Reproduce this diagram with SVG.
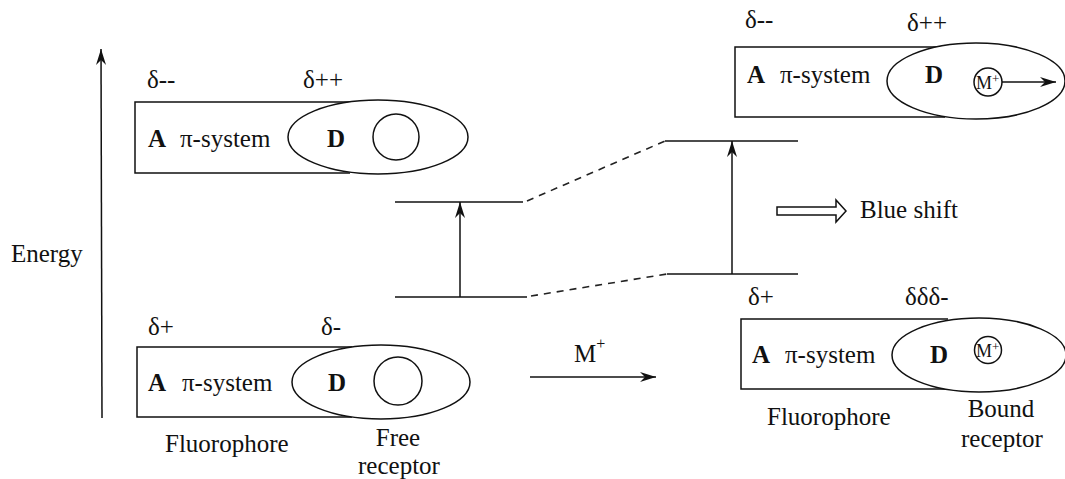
<svg xmlns="http://www.w3.org/2000/svg" width="1065" height="479" viewBox="0 0 1065 479" font-family="'Liberation Serif', 'Times New Roman', serif">
<style>
text{font-family:"Liberation Serif","Times New Roman",serif;font-size:25px;fill:#111}
.b{font-weight:bold}
.s{font-size:18px}
.ln{stroke:#111;stroke-width:1.5;fill:none}
.sh{stroke:#111;stroke-width:1.5;fill:#fff}
.dash{stroke:#222;stroke-width:1.6;fill:none;stroke-dasharray:7,6}
.c{text-anchor:middle}
</style>
<defs>
<marker id="ah" markerUnits="userSpaceOnUse" markerWidth="20" markerHeight="14" viewBox="-18 -7 20 14" refX="0" refY="0" orient="auto">
<path d="M0,0 L-16,-5 L-11,0 L-16,5 Z" fill="#111"/>
</marker>
</defs>
<rect width="1065" height="479" fill="#fff"/>

<g id="axis">
<line class="ln" x1="102" y1="418" x2="101" y2="49" stroke-width="2" marker-end="url(#ah)"/>
<text x="11" y="262">Energy</text>
</g>

<g id="free-excited">
<path class="ln" d="M350,102 H135 V173 H350"/>
<ellipse class="sh" cx="378" cy="137" rx="90" ry="37"/>
<circle class="ln" cx="396" cy="137" r="23"/>
<text x="147" y="88">δ--</text>
<text x="303" y="88">δ++</text>
<text class="b" x="148" y="147">A</text>
<text x="180" y="147">π-system</text>
<text class="b" x="327" y="147">D</text>
</g>

<g id="free-ground">
<path class="ln" d="M352,347 H137 V417 H352"/>
<ellipse class="sh" cx="381" cy="382" rx="89" ry="37"/>
<circle class="ln" cx="398" cy="381" r="24"/>
<text x="148" y="335">δ+</text>
<text x="321" y="335">δ-</text>
<text class="b" x="148" y="391">A</text>
<text x="182" y="391">π-system</text>
<text class="b" x="328" y="391">D</text>
<text x="165" y="452">Fluorophore</text>
<text class="c" x="398" y="446">Free</text>
<text class="c" x="399" y="474">receptor</text>
</g>

<g id="bound-excited">
<path class="ln" d="M945,47 H735 V117 H945"/>
<ellipse class="sh" cx="976" cy="81" rx="89" ry="38"/>
<circle class="ln" cx="988" cy="82" r="14"/>
<text class="s" x="976" y="89">M<tspan dy="-6" font-size="13">+</tspan></text>
<text x="745" y="28">δ--</text>
<text x="907" y="31">δ++</text>
<text class="b" x="747" y="83">A</text>
<text x="780" y="83">π-system</text>
<text class="b" x="925" y="83">D</text>
</g>

<g id="bound-ground">
<path class="ln" d="M948,319 H741 V389 H948"/>
<ellipse class="sh" cx="979" cy="355" rx="87" ry="37"/>
<circle class="ln" cx="988" cy="350" r="13.5"/>
<text class="s" x="976" y="357">M<tspan dy="-6" font-size="13">+</tspan></text>
<text x="748" y="305">δ+</text>
<text x="905" y="305">δδδ-</text>
<text class="b" x="752" y="363">A</text>
<text x="785" y="363">π-system</text>
<text class="b" x="930" y="363">D</text>
<text x="767" y="425">Fluorophore</text>
<text class="c" x="1001" y="417">Bound</text>
<text class="c" x="1002" y="447">receptor</text>
</g>

<g id="levels">
<line class="ln" x1="395" y1="202" x2="523" y2="202"/>
<line class="ln" x1="395" y1="297" x2="527" y2="297"/>
<line class="ln" x1="665" y1="141" x2="798" y2="141"/>
<line class="ln" x1="667" y1="274" x2="798" y2="274"/>
</g>

<g id="connectors">
<line class="dash" x1="527" y1="201" x2="665" y2="141"/>
<line class="dash" x1="531" y1="296" x2="667" y2="274"/>
<line class="ln" x1="460" y1="297" x2="460" y2="202" marker-end="url(#ah)"/>
<line class="ln" x1="732" y1="274" x2="732" y2="141" marker-end="url(#ah)"/>
<line class="ln" x1="530" y1="377" x2="656" y2="377" marker-end="url(#ah)"/>
<line class="ln" x1="1002" y1="82" x2="1056" y2="82" marker-end="url(#ah)"/>
<path class="ln" d="M777,207 H836 V200 L846,211 L836,222 V215 H777 Z"/>
</g>

<g id="labels">
<text x="574" y="362">M<tspan dy="-13" font-size="16">+</tspan></text>
<text x="860" y="218">Blue shift</text>
</g>
</svg>
